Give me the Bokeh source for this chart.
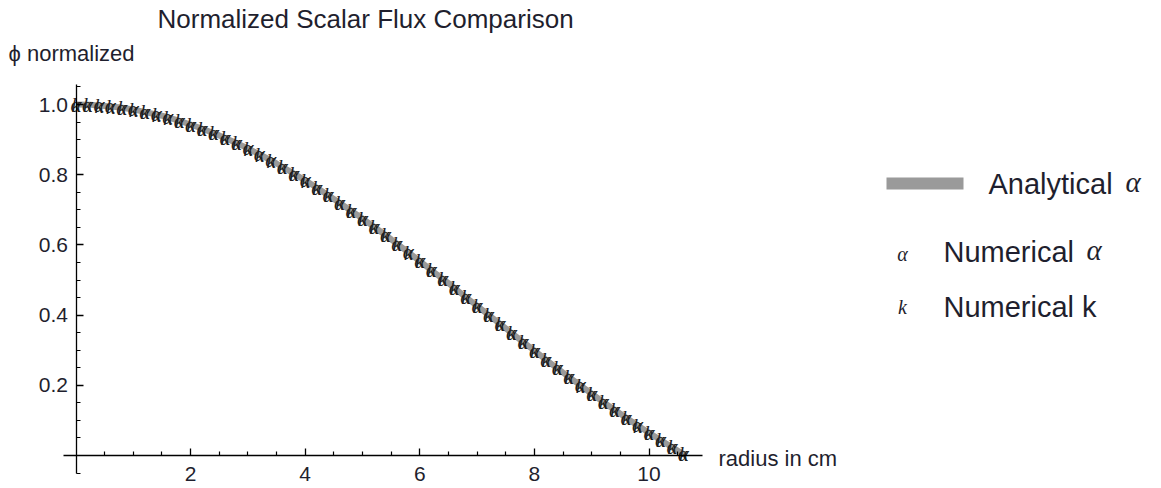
from bokeh.plotting import figure
from bokeh.models import (Range1d, LinearAxis, FixedTicker, Label, BoxAnnotation,
                          ColumnDataSource, PrintfTickFormatter)
from bokeh.core.properties import value
from bokeh.embed import file_html
from bokeh.resources import INLINE

# ---- data ----
radius_cm = [0.0, 0.25, 0.5, 0.75, 1.0, 1.25, 1.5, 1.75, 2.0, 2.25, 2.5, 2.75, 3.0,
             3.25, 3.5, 3.75, 4.0, 4.25, 4.5, 4.75, 5.0, 5.25, 5.5, 5.75, 6.0, 6.25,
             6.5, 6.75, 7.0, 7.25, 7.5, 7.75, 8.0, 8.25, 8.5, 8.75, 9.0, 9.25, 9.5,
             9.75, 10.0, 10.25, 10.5, 10.65]
phi_analytical = [1.000, 0.999, 0.996, 0.992, 0.986, 0.977, 0.968, 0.956, 0.943, 0.928,
                  0.912, 0.894, 0.875, 0.854, 0.832, 0.808, 0.784, 0.758, 0.731, 0.703,
                  0.675, 0.646, 0.616, 0.585, 0.554, 0.522, 0.491, 0.458, 0.426, 0.394,
                  0.362, 0.330, 0.299, 0.267, 0.236, 0.206, 0.176, 0.147, 0.119, 0.091,
                  0.065, 0.039, 0.014, 0.000]
radius_numerical_cm = [0.0, 0.2, 0.4, 0.6, 0.8, 1.0, 1.2, 1.4, 1.6, 1.8, 2.0, 2.2, 2.4,
                       2.6, 2.8, 3.0, 3.2, 3.4, 3.6, 3.8, 4.0, 4.2, 4.4, 4.6, 4.8, 5.0,
                       5.2, 5.4, 5.6, 5.8, 6.0, 6.2, 6.4, 6.6, 6.8, 7.0, 7.2, 7.4, 7.6,
                       7.8, 8.0, 8.2, 8.4, 8.6, 8.8, 9.0, 9.2, 9.4, 9.6, 9.8, 10.0, 10.2,
                       10.4, 10.6]
phi_numerical_alpha = [1.000, 0.999, 0.998, 0.995, 0.991, 0.986, 0.979, 0.972, 0.963, 0.954,
                       0.943, 0.931, 0.919, 0.905, 0.890, 0.875, 0.858, 0.841, 0.822, 0.803,
                       0.784, 0.763, 0.742, 0.720, 0.698, 0.675, 0.651, 0.628, 0.603, 0.579,
                       0.554, 0.529, 0.503, 0.478, 0.452, 0.426, 0.401, 0.375, 0.349, 0.324,
                       0.299, 0.273, 0.249, 0.224, 0.200, 0.176, 0.153, 0.130, 0.108, 0.086,
                       0.065, 0.044, 0.024, 0.005]
phi_numerical_k = [1.000, 0.999, 0.997, 0.994, 0.990, 0.985, 0.978, 0.971, 0.962, 0.953,
                   0.942, 0.930, 0.918, 0.904, 0.889, 0.874, 0.857, 0.840, 0.821, 0.802,
                   0.783, 0.762, 0.741, 0.719, 0.697, 0.674, 0.650, 0.627, 0.602, 0.578,
                   0.553, 0.528, 0.502, 0.477, 0.451, 0.425, 0.400, 0.374, 0.348, 0.323,
                   0.298, 0.272, 0.248, 0.223, 0.199, 0.175, 0.152, 0.129, 0.107, 0.085,
                   0.064, 0.043, 0.023, 0.004]
x_tick_values = [2, 4, 6, 8, 10]
y_tick_values = [0.2, 0.4, 0.6, 0.8, 1.0]
title_text = "Normalized Scalar Flux Comparison"
y_label_text = "\u03d5 normalized"
x_label_text = "radius in cm"
legend_words = ["Analytical", "Numerical", "Numerical k"]
marker_alpha = "\u03b1"
marker_k = "k"

# ---- layout: the frame covers the whole canvas ----
W, H = 1161, 488
X0, Y0 = 75.5, 455.0          # pixel position of the data origin
SX, SY = 57.3, 351.0          # pixels per data unit

p = figure(width=W, height=H,
           x_range=Range1d(-X0 / SX, (W - X0) / SX),
           y_range=Range1d(-(H - Y0) / SY, Y0 / SY),
           output_backend="svg", toolbar_location=None,
           x_axis_location=None, y_axis_location=None, min_border=0)
p.grid.visible = False
p.outline_line_color = None
p.background_fill_color = "white"
p.border_fill_color = "white"

x_minor = [i * 0.5 for i in range(1, 22) if i % 4 != 0]
y_minor = [-0.05] + [round(i * 0.05, 2) for i in range(1, 22) if i % 4 != 0]

TICK_FONT = "Liberation Sans"
TEXT_COLOR = "#1f1f2e"

def style_axis(ax):
    ax.axis_line_color = "black"
    ax.axis_line_width = 1.3
    ax.major_tick_line_color = "black"
    ax.minor_tick_line_color = "black"
    ax.major_tick_line_width = 1.3
    ax.minor_tick_line_width = 1.2
    ax.major_tick_in = 7
    ax.major_tick_out = 0
    ax.minor_tick_in = 4
    ax.minor_tick_out = 0
    ax.major_label_text_font = TICK_FONT
    ax.major_label_text_font_size = "21px"
    ax.major_label_text_color = TEXT_COLOR

xaxis = LinearAxis(fixed_location=0, bounds=(-0.22, 10.93),
                   ticker=FixedTicker(ticks=x_tick_values, minor_ticks=x_minor))
style_axis(xaxis)
xaxis.major_label_standoff = 11
p.add_layout(xaxis, "below")

yaxis = LinearAxis(fixed_location=0, bounds=(-0.05, 1.057),
                   ticker=FixedTicker(ticks=y_tick_values, minor_ticks=y_minor),
                   formatter=PrintfTickFormatter(format="%.1f"))
style_axis(yaxis)
yaxis.major_label_standoff = 8
p.add_layout(yaxis, "left")

src_a = ColumnDataSource(dict(r=radius_cm, phi=phi_analytical))
m = len(radius_numerical_cm)
src_n = ColumnDataSource(dict(r=radius_numerical_cm, pa=phi_numerical_alpha,
                              pk=phi_numerical_k, ta=[marker_alpha] * m, tk=[marker_k] * m))

p.line("r", "phi", source=src_a, line_color="#9a9a9a", line_width=6)
p.text("r", "pa", text="ta", source=src_n, text_font=value("Liberation Serif"),
       text_font_style="italic", text_font_size="21px", text_align="center",
       text_baseline="middle", text_color="#1e1e1e")
p.text("r", "pk", text="tk", source=src_n, text_font=value("Liberation Serif"),
       text_font_style="italic", text_font_size="20px", text_align="center",
       text_baseline="middle", text_color="#1e1e1e")

def add_label(text, X, Y, size, font="Liberation Sans", style="normal", align="left", color=TEXT_COLOR):
    p.add_layout(Label(x=X, y=H - Y, x_units="screen", y_units="screen", text=text,
                       text_font=font, text_font_size=size, text_font_style=style,
                       text_align=align, text_baseline="middle", text_color=color))

add_label(title_text, 157, 18, "26px")
add_label(y_label_text, 8, 53, "22px")
add_label(x_label_text, 718, 458, "22px")

# legend
p.add_layout(BoxAnnotation(left=886, right=963, top=H - 177, bottom=H - 189,
                           left_units="screen", right_units="screen",
                           top_units="screen", bottom_units="screen",
                           fill_color="#9a9a9a", fill_alpha=1.0, line_color=None))
add_label(legend_words[0], 988, 183, "29px")
add_label(marker_alpha, 1125, 181, "29px", font="Liberation Serif", style="italic")
add_label(marker_alpha, 902, 253, "20px", font="Liberation Serif", style="italic", align="center")
add_label(legend_words[1], 943, 251, "29px")
add_label(marker_alpha, 1086, 249, "29px", font="Liberation Serif", style="italic")
add_label(marker_k, 902, 306, "20px", font="Liberation Serif", style="italic", align="center")
add_label(legend_words[2], 943, 306, "29px")

open("out.html", "w").write(file_html(p, INLINE))
